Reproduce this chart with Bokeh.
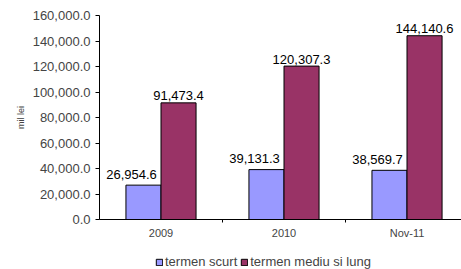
from bokeh.plotting import figure
from bokeh.layouts import column
from bokeh.models import (ColumnDataSource, Range1d, FixedTicker, NumeralTickFormatter,
                          Legend, LegendItem)
from bokeh.core.properties import value
from bokeh.embed import file_html
from bokeh.resources import INLINE

categories = ["2009", "2010", "Nov-11"]
short_term = [26954.6, 39131.3, 38569.7]
long_term = [91473.4, 120307.3, 144140.6]
series_names = ["termen scurt", "termen mediu si lung"]
series_colors = ["#9999FF", "#993366"]
y_ticks = [0, 20000, 40000, 60000, 80000, 100000, 120000, 140000, 160000]

FONT = "Liberation Sans"
bw = 0.285
centers = [i + 0.5 for i in range(len(categories))]

src = ColumnDataSource(dict(
    xs=[c - bw / 2 for c in centers],
    xl=[c + bw / 2 for c in centers],
    s=short_term,
    l=long_term,
    sl=[f"{v:,.1f}" for v in short_term],
    ll=[f"{v:,.1f}" for v in long_term],
))

p = figure(width=461, height=250, output_backend="svg", toolbar_location=None,
           x_range=Range1d(0, 2.943), y_range=Range1d(0, 160000),
           min_border_left=99, min_border_right=0, min_border_top=15, min_border_bottom=31)
p.outline_line_color = None
p.xgrid.visible = False
p.ygrid.visible = False

p.vbar(x="xs", top="s", width=bw, source=src, fill_color=series_colors[0], line_color="black", line_width=1)
p.vbar(x="xl", top="l", width=bw, source=src, fill_color=series_colors[1], line_color="black", line_width=1)

p.text(x="xs", y="s", text="sl", source=src, x_offset=-12, y_offset=-11,
       text_align="center", text_baseline="alphabetic", text_font=value(FONT),
       text_font_size="13px", text_color="black")
p.text(x="xl", y="l", text="ll", source=src, y_offset=-7,
       text_align="center", text_baseline="alphabetic", text_font=value(FONT),
       text_font_size="13px", text_color="black")

# y axis
ya = p.yaxis[0]
ya.ticker = FixedTicker(ticks=y_ticks)
ya.formatter = NumeralTickFormatter(format="0,0.0")
ya.major_label_text_font = FONT
ya.major_label_text_font_size = "13px"
ya.major_tick_out = 4
ya.major_tick_in = 0
ya.minor_tick_out = 0
ya.minor_tick_in = 0
ya.major_label_standoff = 5
ya.axis_label = "mil lei"
ya.axis_label_text_font = FONT
ya.axis_label_text_font_size = "9px"
ya.axis_label_text_font_style = "normal"
ya.axis_label_standoff = 4
ya.axis_line_color = "black"
ya.major_tick_line_color = "black"

# x axis
xa = p.xaxis[0]
xa.ticker = FixedTicker(ticks=centers, minor_ticks=[1, 2])
xa.major_label_overrides = {c: n for c, n in zip(centers, categories)}
xa.major_tick_out = 0
xa.major_tick_in = 0
xa.minor_tick_out = 3
xa.minor_tick_in = 0
xa.major_label_standoff = 4
xa.major_label_text_font = FONT
xa.major_label_text_font_size = "11px"
xa.axis_line_color = "black"
xa.minor_tick_line_color = "black"

# legend strip below the chart (hidden proxy bars only feed the legend glyphs)
lf = figure(width=461, height=19, output_backend="svg", toolbar_location=None,
            x_axis_type=None, y_axis_type=None, min_border=0,
            x_range=Range1d(0, 1), y_range=Range1d(0, 1))
lf.outline_line_color = None
lf.xgrid.visible = False
lf.ygrid.visible = False
lr = [lf.vbar(x="xs", top=col, width=bw, source=src, fill_color=c, line_color="black",
              line_width=1, visible=False)
      for col, c in zip(["s", "l"], series_colors)]
legend = Legend(items=[LegendItem(label=n, renderers=[r]) for n, r in zip(series_names, lr)],
                orientation="horizontal", location=(56, 0),
                glyph_width=8, glyph_height=8, label_standoff=2, spacing=3,
                padding=0, margin=0, border_line_color=None, background_fill_alpha=0,
                inactive_fill_alpha=0,
                label_text_font=FONT, label_text_font_size="13px",
                label_height=12)
lf.add_layout(legend, "center")

open("out.html", "w").write(file_html(column(p, lf), INLINE))
